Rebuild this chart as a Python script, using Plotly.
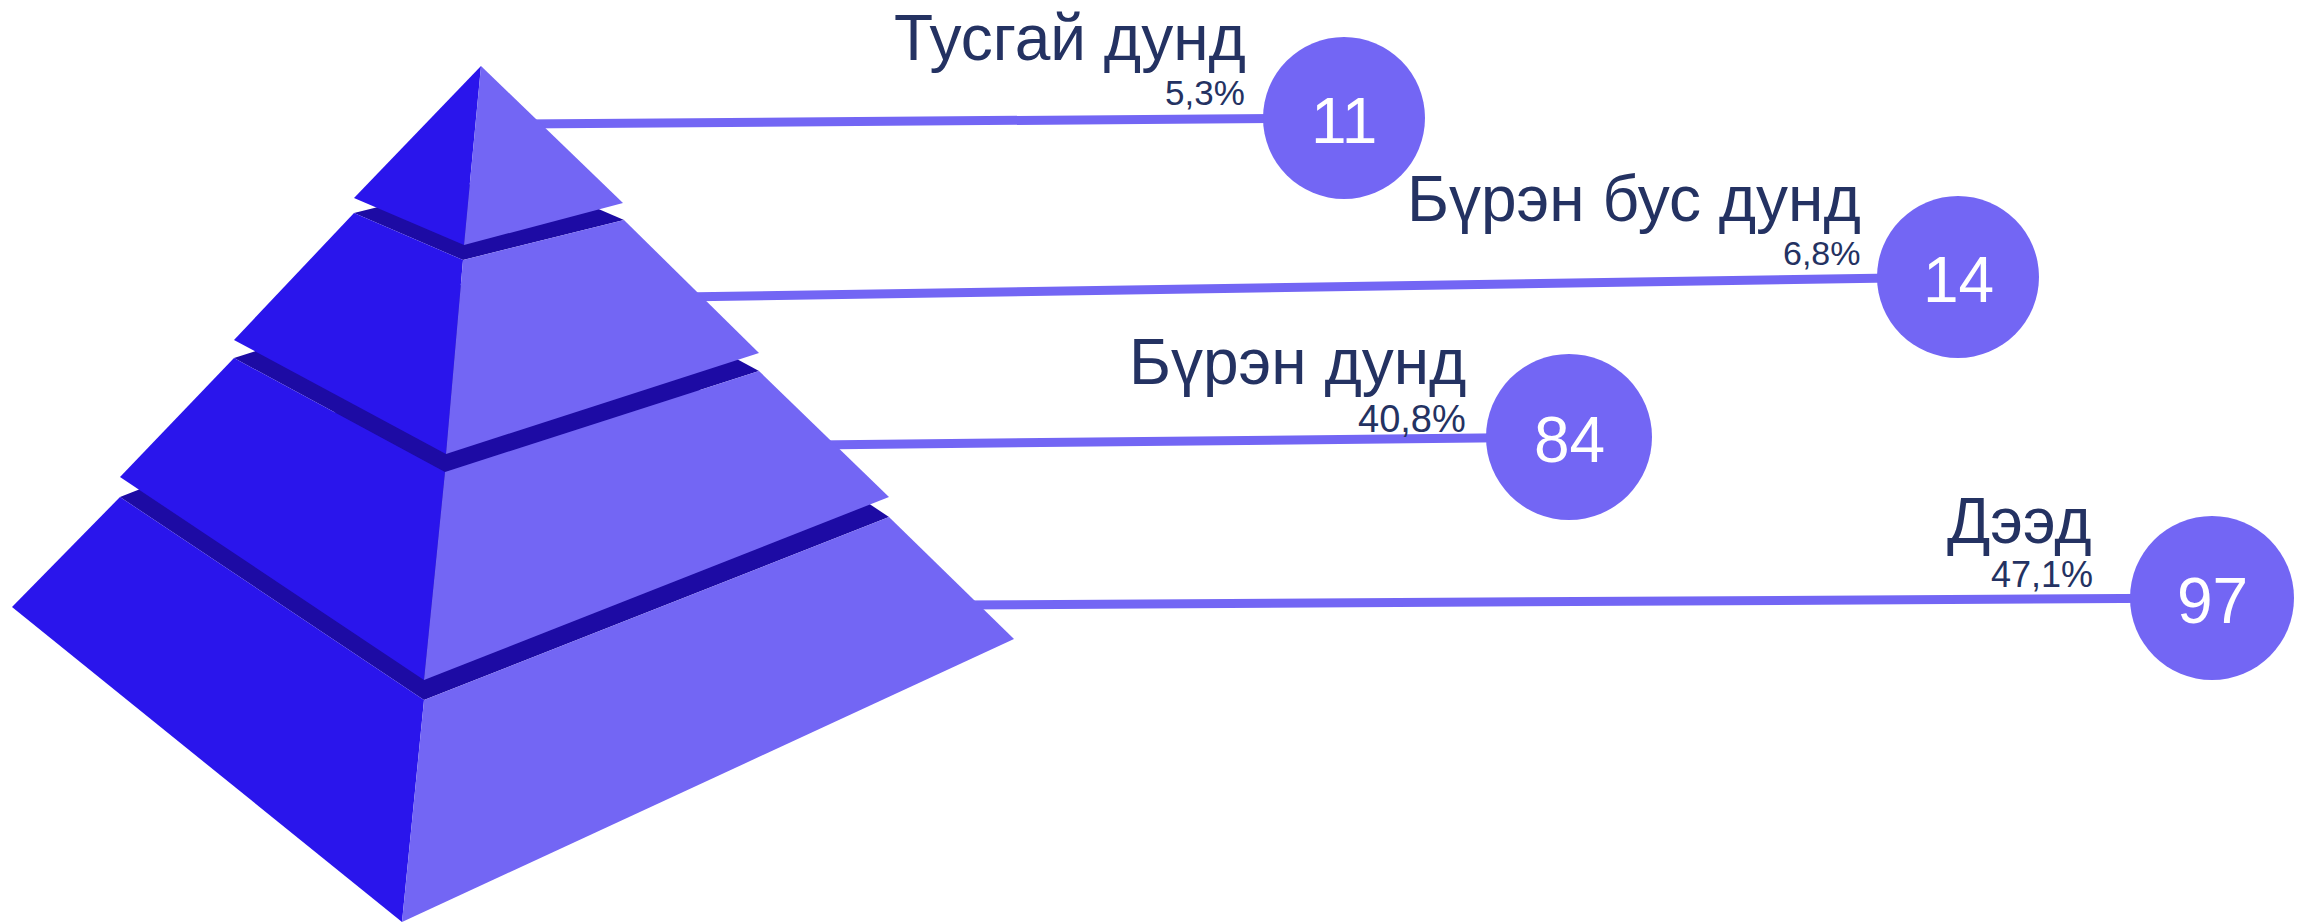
import plotly.graph_objects as go

# ---- data ----
categories = ["Тусгай дунд", "Бүрэн бус дунд", "Бүрэн дунд", "Дээд"]
counts = [11, 14, 84, 97]
shares = ["5,3%", "6,8%", "40,8%", "47,1%"]

# ---- layout (pixel space) ----
W, H = 2311, 923
circle_x = [1344, 1958, 1569, 2212]
circle_y = [118, 277, 437, 598]
circle_r = [81, 81, 83, 82]
line_x0 = [520, 680, 815, 955]
line_y0 = [124, 297, 445, 605]
label_right = [1248, 1863, 1468, 2094]
label_y = [38, 199, 362, 521]
share_right = [1247, 1863, 1468, 2095]
share_y = [92, 253, 419, 574]
share_size = [35, 34, 38, 36]

C_LEFT = "#2A15EC"
C_RIGHT = "#7366F4"
C_BAND = "#1D0BA4"
C_TEXT = "#243262"
FONT = "Arial, Liberation Sans, sans-serif"

# pyramid tiers: (top-left, top-front, top-right, bottom-left, bottom-front, bottom-right)
tiers = [
    [(481, 66), (481, 66), (481, 66), (354, 198), (464, 245), (623, 203)],
    [(354, 213), (463, 260), (624, 220), (234, 340), (446, 454), (759, 353)],
    [(234, 358), (445, 472), (759, 371), (120, 477), (424, 680), (889, 497)],
    [(120, 497), (424, 700), (889, 517), (12, 607), (402, 922), (1014, 639)],
]


def path(pts):
    return "M " + " L ".join(f"{x},{y}" for x, y in pts) + " Z"


def back_point(tl, tf, tr):
    s1 = (tr[1] - tf[1]) / (tr[0] - tf[0])
    s2 = (tf[1] - tl[1]) / (tf[0] - tl[0])
    x = (tr[1] - s2 * tr[0] - tl[1] + s1 * tl[0]) / (s1 - s2)
    y = tl[1] + s1 * (x - tl[0])
    return (x, y)


shapes = []
# connector lines
for i in range(4):
    shapes.append(dict(type="line", xref="x", yref="y",
                       x0=line_x0[i], y0=line_y0[i], x1=circle_x[i], y1=circle_y[i],
                       line=dict(color=C_RIGHT, width=9)))

# pyramid, bottom tier first so upper tiers overlap bands
for k in range(3, -1, -1):
    tl, tf, tr, bl, bf, br = tiers[k]
    if k > 0:
        bp = back_point(tl, tf, tr)
        shapes.append(dict(type="path", path=path([tl, tf, tr, bp]),
                           fillcolor=C_BAND, line=dict(width=0)))
    shapes.append(dict(type="path", path=path([tl, tf, bf, bl]) if k > 0 else path([tf, bf, bl]),
                       fillcolor=C_LEFT, line=dict(width=0)))
    shapes.append(dict(type="path", path=path([tf, tr, br, bf]) if k > 0 else path([tf, br, bf]),
                       fillcolor=C_RIGHT, line=dict(width=0)))

# circles
for i in range(4):
    r = circle_r[i]
    shapes.append(dict(type="circle", xref="x", yref="y",
                       x0=circle_x[i] - r, x1=circle_x[i] + r,
                       y0=circle_y[i] - r, y1=circle_y[i] + r,
                       fillcolor=C_RIGHT, line=dict(width=0)))

annotations = []
for i in range(4):
    annotations.append(dict(x=label_right[i], y=label_y[i], xref="x", yref="y",
                            text=categories[i], showarrow=False, xanchor="right", yanchor="middle",
                            font=dict(family=FONT, size=64, color=C_TEXT)))
    annotations.append(dict(x=share_right[i], y=share_y[i], xref="x", yref="y",
                            text=shares[i], showarrow=False, xanchor="right", yanchor="middle",
                            font=dict(family=FONT, size=share_size[i], color=C_TEXT)))
    annotations.append(dict(x=circle_x[i], y=circle_y[i] + 3, xref="x", yref="y",
                            text=str(counts[i]), showarrow=False, xanchor="center", yanchor="middle",
                            font=dict(family=FONT, size=64, color="#FFFFFF")))

fig = go.Figure()
fig.add_trace(go.Scatter(x=[0, W], y=[0, H], mode="markers", marker=dict(opacity=0),
                         hoverinfo="skip", showlegend=False))
fig.update_layout(
    width=W, height=H,
    margin=dict(l=0, r=0, t=0, b=0),
    paper_bgcolor="#FFFFFF", plot_bgcolor="#FFFFFF",
    xaxis=dict(range=[0, W], visible=False, fixedrange=True),
    yaxis=dict(range=[H, 0], visible=False, fixedrange=True),
    shapes=shapes, annotations=annotations, showlegend=False,
)
fig.write_html("out.html", config=dict(displayModeBar=False),
               post_script="document.body.style.margin='0';document.body.style.overflow='hidden';")
